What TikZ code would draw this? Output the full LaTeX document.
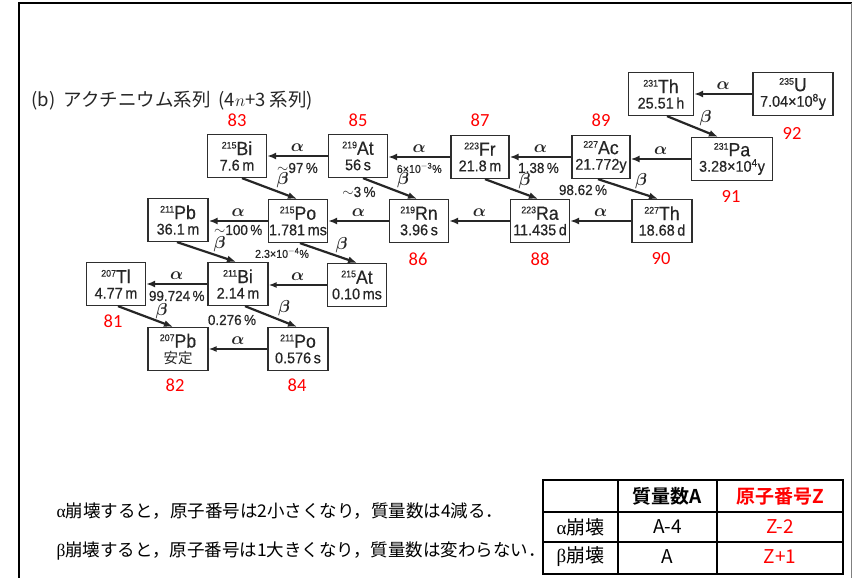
\documentclass[tikz,border=0pt]{standalone}
\usepackage{amsmath}
\usepackage{fontspec}
\setmainfont{Liberation Sans}
\newfontfamily\nar{Liberation Sans}[FakeStretch=0.93,FakeBold=0.4]
\newfontfamily\jp{Noto Sans CJK JP}[BoldFont={Noto Sans CJK JP Bold}]
\newfontfamily\zfont{Carlito}
\newfontfamily\grk{Liberation Serif}
\usetikzlibrary{arrows.meta}
\definecolor{txt}{HTML}{262626}
\definecolor{boxc}{HTML}{2E2E2E}
\definecolor{zred}{HTML}{FF0000}
\newcommand\nucl[3]{\raisebox{6.5pt}{\fontsize{9.5}{10}\selectfont #1}{\fontsize{19}{19}\selectfont #2}\\[-1.5pt]{\fontsize{15.5}{16}\selectfont #3}}
\newcommand\al{$\boldsymbol{\alpha}$}
\newcommand\be{$\boldsymbol{\beta}$}
\tikzset{
  nuc/.style={draw=boxc, line width=1.3pt, minimum height=43pt, minimum width=59pt, inner sep=0pt, align=center, text=txt, font=\nar\fontsize{15}{17}\selectfont},
  znum/.style={text=zred, font=\zfont\fontsize{18.5}{19}\selectfont},
  aarr/.style={-{Latex[length=9pt,width=7pt]}, line width=2.7pt, draw=txt},
  aarrthin/.style={-{Latex[length=8pt,width=6pt]}, line width=1.4pt, draw=txt},
  barr/.style={-{Latex[length=9pt,width=7pt]}, line width=2.2pt, draw=txt},
  alab/.style={midway, yshift=8pt, text=txt, font=\fontsize{16}{16}\selectfont},
  blab/.style={midway, xshift=13pt, yshift=8pt, text=txt, font=\fontsize{16}{16}\selectfont},
  pct/.style={text=txt, font=\nar\fontsize{14.5}{15}\selectfont},
  spct/.style={text=txt, font=\nar\fontsize{11.5}{12}\selectfont},
  cell/.style={font=\jp\fontsize{19}{19}\selectfont},
}
\begin{document}
\begin{tikzpicture}[x=1pt,y=-1pt]
\useasboundingbox (0,0) rectangle (852,578);
\fill[white] (0,0) rectangle (852,578);
% frame
\draw[line width=2.6pt, black] (19,578) -- (19,3) -- (852,3);
\draw[line width=1pt, gray] (851,3) -- (851,578);

% title
\node[anchor=west, text=txt, font=\jp\fontsize{18.5}{19}\selectfont] (title) at (28,101) {(b)\hspace{8pt}アクチニウム系列\hspace{8pt}(4$n$+3\hspace{4pt}系列)};

% nuclide boxes
\node[nuc, minimum width=65pt] (Th231) at (661,94) {\nucl{231}{Th}{25.51\,h}};
\node[nuc, minimum width=80pt] (U235) at (793,94) {\nucl{235}{U}{7.04×10\textsuperscript{8}y}};
\node[nuc, minimum width=81pt] (Pa231) at (732,159) {\nucl{231}{Pa}{3.28×10\textsuperscript{4}y}};
\node[nuc, minimum width=58pt] (Ac227) at (601,157) {\nucl{227}{Ac}{21.772y}};
\node[nuc, minimum width=58pt] (Fr223) at (480,157) {\nucl{223}{Fr}{21.8\,m}};
\node[nuc] (At219) at (358,156) {\nucl{219}{At}{56\,s}};
\node[nuc] (Bi215) at (237,156) {\nucl{215}{Bi}{7.6\,m}};
\node[nuc, minimum width=60pt] (Th227) at (662,221) {\nucl{227}{Th}{18.68\,d}};
\node[nuc] (Ra223) at (540,221) {\nucl{223}{Ra}{11.435\,d}};
\node[nuc] (Rn219) at (419,221) {\nucl{219}{Rn}{3.96\,s}};
\node[nuc] (Po215) at (298,221) {\nucl{215}{Po}{1.781\,ms}};
\node[nuc, minimum width=60pt] (Pb211) at (178,220) {\nucl{211}{Pb}{36.1\,m}};
\node[nuc] (Tl207) at (116,284) {\nucl{207}{Tl}{4.77\,m}};
\node[nuc, minimum width=60pt] (Bi211) at (238,284) {\nucl{211}{Bi}{2.14\,m}};
\node[nuc] (At215) at (357,285) {\nucl{215}{At}{0.10\,ms}};
\node[nuc, minimum width=60pt] (Po211) at (298,349) {\nucl{211}{Po}{0.576\,s}};
\node[nuc, minimum width=60pt] (Pb207) at (178,349) {\nucl{207}{Pb}{\jp\fontsize{14.5}{15}\selectfont 安定}};

% atomic numbers
\node[znum] (z83) at (237,120) {83};
\node[znum] (z85) at (358,120) {85};
\node[znum] (z87) at (480,120) {87};
\node[znum] (z89) at (601,120) {89};
\node[znum] (z92) at (792,133) {92};
\node[znum] (z91) at (731,196) {91};
\node[znum] (z86) at (418,259) {86};
\node[znum] (z88) at (540,259) {88};
\node[znum] (z90) at (661,259) {90};
\node[znum] (z81) at (113,321) {81};
\node[znum] (z84) at (297,385) {84};
\node[znum] (z82) at (175,385) {82};

% alpha decays
\draw[aarr] (U235.west) -- (U235.west -| Th231.east) node[alab] {\al};
\draw[aarr] (Pa231.west) -- (Pa231.west -| Ac227.east) node[alab] {\al};
\draw[aarr] (Ac227.west) -- (Ac227.west -| Fr223.east) node[alab] {\al}
  node[midway, xshift=-2pt, yshift=-11pt, pct] (p138) {1.38\,\%};
\draw[aarr] (Fr223.west) -- (Fr223.west -| At219.east) node[alab] {\al}
  node[midway, yshift=-11pt, spct] (p6e3) {6×10\textsuperscript{$-$3}\%};
\draw[aarr] (At219.west) -- (At219.west -| Bi215.east) node[alab] {\al}
  node[midway, yshift=-12pt, pct] (p97) {$\sim$97\,\%};
\draw[aarr] (Th227.west) -- (Th227.west -| Ra223.east) node[alab] {\al};
\draw[aarr] (Ra223.west) -- (Ra223.west -| Rn219.east) node[alab] {\al};
\draw[aarr] (Rn219.west) -- (Rn219.west -| Po215.east) node[alab] {\al};
\draw[aarr] (Po215.west) -- (Po215.west -| Pb211.east) node[alab] {\al}
  node[midway, yshift=-9pt, pct] (p100) {$\sim$100\,\%};
\draw[aarrthin] (At215.west) -- (At215.west -| Bi211.east) node[alab] {\al};
\draw[aarr] (Bi211.west) -- (Bi211.west -| Tl207.east) node[alab] {\al}
  node[midway, yshift=-12pt, pct] (p99) {99.724\,\%};
\draw[aarrthin] (Po211.west) -- (Po211.west -| Pb207.east) node[alab] {\al};

% beta decays
\draw[barr] ([xshift=6pt]Th231.south) -- ([xshift=-14pt]Pa231.north) node[blab] {\be};
\draw[barr] ([xshift=-3pt]Ac227.south) -- ([xshift=-4pt]Th227.north) node[blab] {\be};
\draw[barr] ([xshift=5pt]Fr223.south) -- ([xshift=-2pt]Ra223.north) node[blab] {\be};
\draw[barr] ([xshift=5pt]At219.south) -- ([xshift=-2pt]Rn219.north) node[blab] {\be};
\draw[barr] ([xshift=5pt]Bi215.south) -- ([xshift=-1pt]Po215.north) node[blab] {\be};
\draw[barr] ([xshift=-1pt]Pb211.south) -- ([xshift=-2pt]Bi211.north) node[blab] {\be};
\draw[barr] ([xshift=2pt]Po215.south) -- (At215.north) node[blab] {\be};
\draw[barr] ([xshift=2pt]Tl207.south) -- ([xshift=-5pt]Pb207.north) node[blab, xshift=3pt, yshift=-3pt] {\be};
\draw[barr] ([xshift=7pt]Bi211.south) -- ([xshift=-1pt]Po211.north) node[blab] {\be};

% branching labels
\node[pct] (p9862) at (583,190) {98.62\,\%};
\node[pct] (p3) at (359,192) {$\sim$3\,\%};
\node[spct] (p23e4) at (282,253) {2.3×10\textsuperscript{$-$4}\%};
\node[pct] (p0276) at (232,320) {0.276\,\%};

% explanatory text
\node[anchor=west, font=\jp\fontsize{17.5}{18}\selectfont] (la) at (53,511) {{\grk α}崩壊すると，原子番号は2小さくなり，質量数は4減る．};
\node[anchor=west, font=\jp\fontsize{17.5}{18}\selectfont] (lb) at (53,551) {{\grk β}崩壊すると，原子番号は1大きくなり，質量数は変わらない．};

% table
\draw[line width=1.2pt] (543,480) rectangle (843,574);
\draw[line width=1.2pt] (543,512) -- (843,512) (543,542) -- (843,542)
  (618,480) -- (618,574) (717,480) -- (717,574);
\node[cell] (hA) at (667.5,496) {\bfseries 質量数A};
\node[cell, text=zred] (hZ) at (780,496) {\bfseries 原子番号Z};
\node[cell] (ra) at (580.5,527) {{\grk α}崩壊};
\node[cell] (raA) at (667.5,527) {A-4};
\node[cell, text=zred] (raZ) at (780,527) {Z-2};
\node[cell] (rb) at (580.5,557) {{\grk β}崩壊};
\node[cell] (rbA) at (667.5,557) {A};
\node[cell, text=zred] (rbZ) at (780,557) {Z+1};
\end{tikzpicture}
\end{document}
